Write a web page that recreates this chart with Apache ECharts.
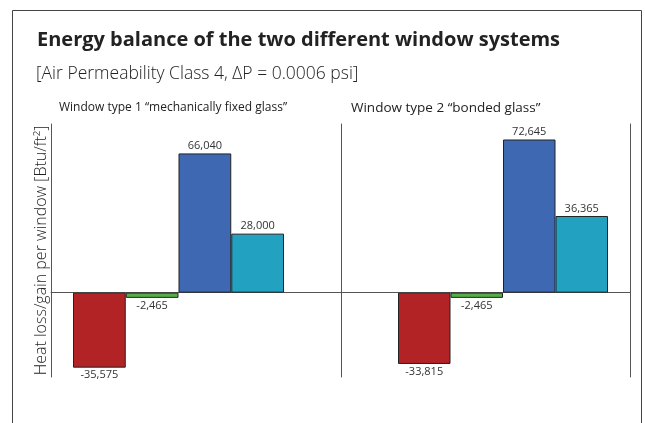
<!DOCTYPE html>
<html>
<head>
<meta charset="utf-8">
<script src="https://cdn.jsdelivr.net/npm/echarts@6/dist/echarts.min.js"></script>
<style>
  html, body { margin: 0; padding: 0; background: #fff; }
  #chart { width: 645px; height: 423px; }
</style>
</head>
<body>
<div id="chart"></div>
<script>
// window types (one panel each)
var windowTypes = ['Window type 1 \u201cmechanically fixed glass\u201d', 'Window type 2 \u201cbonded glass\u201d'];
// series names and colours, in bar order
var seriesNames = ['Transmission heat loss', 'Ventilation heat loss', 'Solar heat gain', 'Energy balance'];
var seriesColors = ['#b22326', '#54b046', '#3f68b2', '#22a1c1'];
// values per window type [Btu/ft2]
var transmissionLoss = [-35575, -33815];
var ventilationLoss = [-2465, -2465];
var solarGain = [66040, 72645];
var energyBalance = [28000, 36365];
var yMin = -40000, yMax = 80000;

var allValues = [transmissionLoss, ventilationLoss, solarGain, energyBalance];

var chart = echarts.init(document.getElementById('chart'));

var lineStyle = { color: '#555', width: 1 };
var baseFont = 'Open Sans, Noto Sans, sans-serif';

function hiddenX(gridIndex, data) {
    return { type: 'category', gridIndex: gridIndex, data: data,
        axisLine: { show: false }, axisTick: { show: false }, axisLabel: { show: false }, splitLine: { show: false } };
}
function valueY(gridIndex, showLine, position) {
    return { type: 'value', gridIndex: gridIndex, min: yMin, max: yMax, position: position || 'left',
        axisLine: { show: showLine, lineStyle: lineStyle }, axisTick: { show: false },
        axisLabel: { show: false }, splitLine: { show: false } };
}

// grids 0,1 = panel frames with axis lines, grids 2,3 = bars
var grids = [
    { left: 51, width: 290, top: 124, height: 253 },
    { left: 341, width: 289, top: 124, height: 253 },
    { left: 73, width: 211, top: 124, height: 253 },
    { left: 398, width: 210, top: 124, height: 253 }
];

var xAxes = [
    { type: 'category', gridIndex: 0, data: [''], axisLine: { show: true, onZero: true, lineStyle: lineStyle },
      axisTick: { show: false }, axisLabel: { show: false } },
    { type: 'category', gridIndex: 1, data: [''], axisLine: { show: true, onZero: true, lineStyle: lineStyle },
      axisTick: { show: false }, axisLabel: { show: false } },
    hiddenX(2, [windowTypes[0]]),
    hiddenX(3, [windowTypes[1]])
];

var yAxes = [
    Object.assign(valueY(0, true), {
        name: 'Heat loss/gain per window [Btu/ft\u00b2]', nameLocation: 'middle', nameGap: 2,
        nameTextStyle: { fontFamily: baseFont, fontSize: 16, fontWeight: 300, color: '#222' }
    }),
    valueY(1, true),
    valueY(1, true, 'right'),
    valueY(2, false),
    valueY(3, false)
];

var series = [];
for (var p = 0; p < 2; p++) {
    for (var s = 0; s < seriesNames.length; s++) {
        var v = allValues[s][p];
        series.push({
            name: seriesNames[s], type: 'bar', xAxisIndex: p + 2, yAxisIndex: p + 3,
            barGap: '0%', barCategoryGap: '0%',
            itemStyle: { color: seriesColors[s], borderColor: '#222', borderWidth: 1 },
            data: [{ value: v, label: { position: v < 0 ? 'bottom' : 'top' } }],
            label: { show: true, distance: 2, fontFamily: baseFont, fontSize: 11, color: '#333',
                formatter: function (d) { return d.value.toLocaleString('en-US'); } }
        });
    }
}

var option = {
    backgroundColor: '#fff',
    animation: false,
    title: [
        { text: 'Energy balance of the two different window systems', left: 32, top: 25,
          textStyle: { fontFamily: baseFont, fontSize: 20, fontWeight: 'bold', color: '#222' } },
        { text: '[Air Permeability Class 4, \u0394P = 0.0006 psi]', left: 31, top: 60,
          textStyle: { fontFamily: baseFont, fontSize: 17.5, fontWeight: 300, color: '#222' } },
        { text: windowTypes[0], left: 54, top: 97,
          textStyle: { fontFamily: baseFont, fontSize: 12, fontWeight: 'normal', color: '#222' } },
        { text: windowTypes[1], left: 346, top: 96,
          textStyle: { fontFamily: baseFont, fontSize: 13.5, fontWeight: 'normal', color: '#222' } }
    ],
    graphic: [
        { type: 'rect', shape: { x: 12.5, y: 10.5, width: 629, height: 440 },
          style: { fill: 'none', stroke: '#444', lineWidth: 1 }, silent: true }
    ],
    grid: grids,
    xAxis: xAxes,
    yAxis: yAxes,
    series: series
};

chart.setOption(option);
</script>
</body>
</html>
